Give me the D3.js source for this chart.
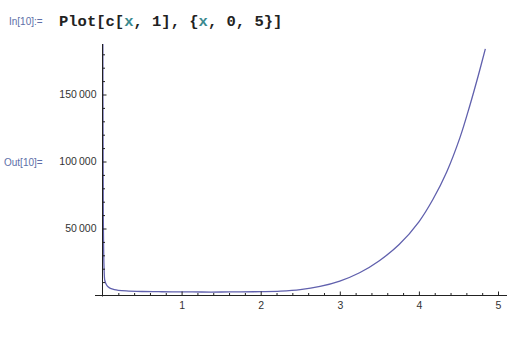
<!DOCTYPE html>
<html>
<head>
<meta charset="utf-8">
<script src="https://cdn.jsdelivr.net/npm/d3@7"></script>
<style>
  body { margin: 0; background: #fff; }
  svg { display: block; }
</style>
</head>
<body>
<svg id="chart" width="524" height="344"></svg>
<script>
var xs = [0.004, 0.01, 0.02, 0.03, 0.05, 0.07, 0.1, 0.15, 0.2, 0.3, 0.5, 0.75, 1, 1.25, 1.5, 1.75, 2, 2.25, 2.5, 2.75, 3, 3.25, 3.5, 3.75, 4, 4.18, 4.35, 4.52, 4.645, 4.75, 4.84];
var ys = [260000, 60000, 20000, 11000, 8000, 6500, 5300, 4400, 3900, 3400, 3000, 2800, 2700, 2600, 2600, 2700, 2900, 3300, 4400, 6800, 10800, 17000, 26000, 38000, 55000, 72000, 92000, 118000, 142000, 164000, 184000];
var xTicks = [1, 2, 3, 4, 5];
var yTicks = [50000, 100000, 150000];

var svg = d3.select("#chart");

var x = d3.scaleLinear().domain([0, 5]).range([102.5, 498]);
var y = d3.scaleLinear().domain([0, 50000]).range([295.5, 228.5]);

var fmt = function(d) { return d3.format(",")(d).replace(/,/g, "\u2009"); };

// input / output labels
svg.append("text")
  .attr("x", 9).attr("y", 25)
  .attr("font-family", "Liberation Sans, Arial, sans-serif")
  .attr("font-size", 10)
  .attr("fill", "#5d6fa8")
  .text("In[10]:=");

var code = svg.append("text")
  .attr("x", 59).attr("y", 26)
  .attr("font-family", "Liberation Mono, Courier New, monospace")
  .attr("font-size", 15.5)
  .attr("font-weight", "bold")
  .attr("fill", "#222");
[["Plot[c[", "#222"], ["x", "#3b8a8f"], [", 1], {", "#222"], ["x", "#3b8a8f"], [", 0, 5}]", "#222"]]
  .forEach(function(p) { code.append("tspan").attr("fill", p[1]).text(p[0]); });

svg.append("text")
  .attr("x", 4).attr("y", 166)
  .attr("font-family", "Liberation Sans, Arial, sans-serif")
  .attr("font-size", 10)
  .attr("fill", "#5d6fa8")
  .text("Out[10]=");

// clip region for the curve
svg.append("clipPath").attr("id", "plotclip")
  .append("rect").attr("x", 95).attr("y", 44).attr("width", 415).attr("height", 252);

var line = d3.line()
  .x(function(d, i) { return x(xs[i]); })
  .y(function(d) { return y(d); })
  .curve(d3.curveCatmullRom.alpha(0.5));

svg.append("path")
  .datum(ys)
  .attr("clip-path", "url(#plotclip)")
  .attr("fill", "none")
  .attr("stroke", "#6060ad")
  .attr("stroke-width", 1.3)
  .attr("d", line);

// axes
var axisCol = "#222";
var g = svg.append("g").attr("font-family", "Liberation Sans, Arial, sans-serif");

// y axis
var ya = g.append("g").attr("transform", "translate(" + x(0) + ",0)");
ya.call(d3.axisLeft(y).tickValues(d3.range(10000, 190000, 10000).filter(function(v) { return v % 50000; }))
  .tickSizeInner(-2.5).tickSizeOuter(0).tickFormat(""));
ya.call(function(s) { s.select(".domain").remove(); });
var yb = g.append("g").attr("transform", "translate(" + x(0) + ",0)");
yb.call(d3.axisLeft(y).tickValues(yTicks).tickSizeInner(-4).tickSizeOuter(0).tickPadding(6).tickFormat(fmt));
yb.select(".domain").remove();
yb.selectAll("text").attr("font-size", 10.5).attr("fill", "#333");

// x axis
var xa = g.append("g").attr("transform", "translate(0," + y(0) + ")");
xa.call(d3.axisBottom(x).tickValues(d3.range(0.2, 5.01, 0.2).filter(function(v) { return Math.abs(v - Math.round(v)) > 0.01; }))
  .tickSizeInner(-2.5).tickSizeOuter(0).tickFormat(""));
xa.select(".domain").remove();
var xb = g.append("g").attr("transform", "translate(0," + y(0) + ")");
xb.call(d3.axisBottom(x).tickValues(xTicks).tickSizeInner(-4).tickSizeOuter(0).tickPadding(6).tickFormat(d3.format("d")));
xb.select(".domain").remove();
xb.selectAll("text").attr("font-size", 10.5).attr("fill", "#333");

g.selectAll(".tick line").attr("stroke", axisCol);

// axis lines
g.append("line").attr("x1", x(0)).attr("x2", x(0)).attr("y1", 44).attr("y2", y(0) + 1)
  .attr("stroke", axisCol).attr("stroke-width", 1);
g.append("line").attr("x1", 95).attr("x2", 507).attr("y1", y(0)).attr("y2", y(0))
  .attr("stroke", axisCol).attr("stroke-width", 1);
</script>
</body>
</html>
